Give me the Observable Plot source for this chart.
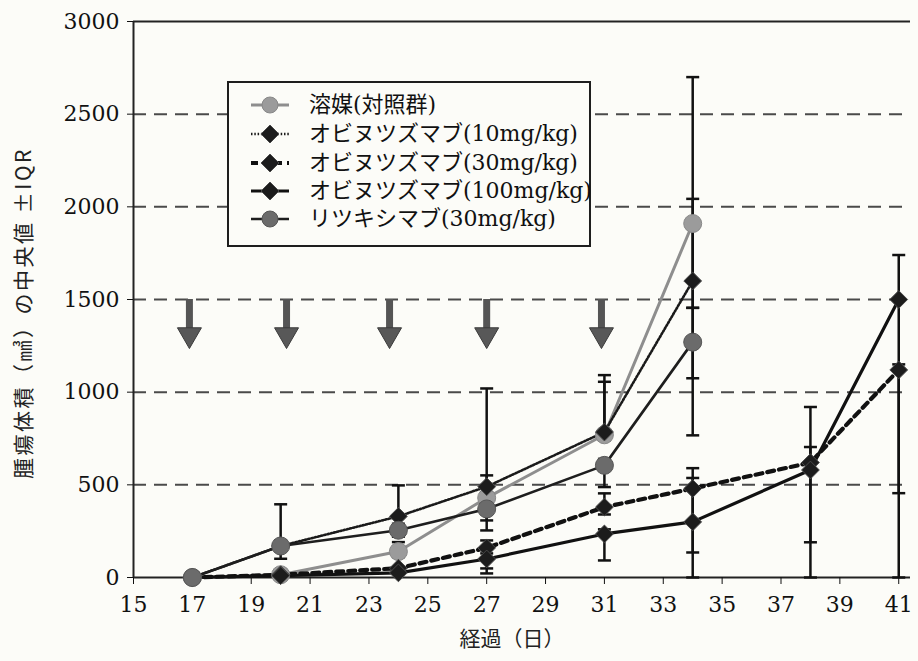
<!DOCTYPE html>
<html><head><meta charset="utf-8">
<script src="https://cdn.jsdelivr.net/npm/d3@7"></script>
<script src="https://cdn.jsdelivr.net/npm/@observablehq/plot@0.6"></script>
<style>
html,body{margin:0;padding:0;background:#fcfcf8;}
#wrap{position:relative;width:918px;height:661px;overflow:hidden;}
#legend{position:absolute;left:227px;top:81px;width:364px;height:166px;border:2px solid #1e1e1e;background:#fcfcf8;box-sizing:border-box;}
.row{position:absolute;left:0;height:28px;display:flex;align-items:center;}
.row svg{margin-left:20px;}
.row span{margin-left:18px;font-family:"DejaVu Serif","Liberation Serif","Noto Sans CJK JP",serif;font-size:22px;color:#111;white-space:nowrap;line-height:28px;}
.axtitle{position:absolute;font-family:"Noto Sans CJK JP",sans-serif;color:#222;white-space:nowrap;}
#ylab{left:22px;top:313px;font-size:21px;letter-spacing:2.5px;transform:translate(-50%,-50%) rotate(-90deg);}
#xlab{left:512px;top:637px;font-size:21px;transform:translate(-50%,-50%);}
</style></head>
<body><div id="wrap"><div id="chart"></div><div id="legend"></div><div id="ylab" class="axtitle"></div><div id="xlab" class="axtitle"></div></div>
<script>
// ---- data ----
const days = [17, 20, 24, 27, 31, 34, 38, 41];
const seriesNames = ["溶媒(対照群)", "オビヌツズマブ(10mg/kg)", "オビヌツズマブ(30mg/kg)", "オビヌツズマブ(100mg/kg)", "リツキシマブ(30mg/kg)"];
const vehicle = [0, 15, 140, 430, 770, 1910];
const obi10 = [0, 170, 330, 490, 785, 1600];
const obi30 = [0, 15, 50, 160, 380, 480, 620, 1120];
const obi100 = [0, 10, 25, 100, 235, 300, 580, 1500];
const ritux = [0, 170, 255, 370, 605, 1270];
// IQR lower / upper bounds (null = none drawn)
const vehicleLow  = [null, null, 110, 308, 740, 1075];
const vehicleHigh = [null, null, 191, 551, 1056, 2700];
const obi10Low  = [null, 150, 250, 460, 760, 1455];
const obi10High = [null, 395, 497, 1020, 1092, 2043];
const obi30Low  = [null, null, null, 49, 340, 135, 190, 0];
const obi30High = [null, null, null, 200, 454, 590, 920, 1150];
const obi100Low  = [null, null, null, 22, 92, 0, 0, 455];
const obi100High = [null, null, null, 130, 260, 537, 704, 1740];
const rituxLow  = [null, 101, 220, 254, 488, 767];
const rituxHigh = [null, 200, 290, 400, 640, 1455];
const doseDays = [16.9, 20.2, 23.7, 27, 30.9];
const arrowTop = 1500, arrowBase = 1330, arrowTip = 1235;
const yTicks = [0, 500, 1000, 1500, 2000, 2500, 3000];
const gridLines = [500, 1000, 1500, 2000, 2500];
const xTicks = [15, 17, 19, 21, 23, 25, 27, 29, 31, 33, 35, 37, 39, 41];
const yTitle = "腫瘍体積（㎣）の中央値 ±IQR";
const xTitle = "経過（日）";

// ---- styles ----
const styles = [
  {values: vehicle, low: vehicleLow, high: vehicleHigh, stroke: "#8e8e8e", width: 3, dash: null, symbol: "circle", r: 9, fill: "#9b9b9b", mstroke: "#888"},
  {values: obi10, low: obi10Low, high: obi10High, stroke: "#1a1a1a", width: 2.6, dash: "1.5,1.8", symbol: "diamond2", r: 8, fill: "#1c1c1c", mstroke: "#4a4a4a"},
  {values: obi30, low: obi30Low, high: obi30High, stroke: "#111", width: 4.2, dash: "7,5", symbol: "diamond2", r: 8, fill: "#1c1c1c", mstroke: "#4a4a4a"},
  {values: obi100, low: obi100Low, high: obi100High, stroke: "#111", width: 3.2, dash: null, symbol: "diamond2", r: 8, fill: "#1c1c1c", mstroke: "#4a4a4a"},
  {values: ritux, low: rituxLow, high: rituxHigh, stroke: "#1e1e1e", width: 2.6, dash: null, symbol: "circle", r: 9, fill: "#6b6b6b", mstroke: "#555"}
];

const rows = styles.map((s, k) => s.values.map((v, i) => ({series: seriesNames[k], day: days[i], value: v, low: s.low[i], high: s.high[i]})));
const errRows = rows.flat().filter(d => d.low != null && d.high != null);
const capRows = errRows.flatMap(d => [{day: d.day, y: d.low}, {day: d.day, y: d.high}]);

const capSymbol = {draw(ctx, size) { const r = Math.sqrt(size / Math.PI); ctx.moveTo(-r, 0); ctx.lineTo(r, 0); }};

const marks = [
  Plot.ruleY(gridLines, {stroke: "#4a4a4a", strokeWidth: 2, strokeDasharray: "13,8"}),
  Plot.ruleY([3000], {stroke: "#222", strokeWidth: 2}),
  Plot.ruleY([0], {stroke: "#222", strokeWidth: 2}),
  Plot.ruleX([15], {y1: 0, y2: 3000, stroke: "#222", strokeWidth: 2}),
  Plot.axisY({ticks: yTicks, tickSize: 6, tickPadding: 8, label: null, tickFormat: d => String(d)}),
  Plot.axisX({ticks: xTicks, tickSize: 7, tickPadding: 12, label: null}),
  Plot.ruleX(doseDays, {x: d => d, y1: arrowTop, y2: arrowBase, stroke: "#555", strokeWidth: 7}),
  Plot.dot(doseDays, {x: d => d, y: arrowTip, dy: -13.9, symbol: "triangle", rotate: 180, r: 8.9, fill: "#585858", stroke: "#3a3a3a", strokeWidth: 1}),
  ...styles.map((s, k) => Plot.line(rows[k], {x: "day", y: "value", stroke: s.stroke, strokeWidth: s.width, strokeDasharray: s.dash})),
  Plot.ruleX(errRows, {x: "day", y1: "low", y2: "high", stroke: "#111", strokeWidth: 2.5}),
  Plot.dot(capRows, {x: "day", y: "y", symbol: capSymbol, r: 6.5, stroke: "#111", strokeWidth: 2.5, fill: "none"}),
  ...styles.map((s, k) => Plot.dot(rows[k], {x: "day", y: "value", symbol: s.symbol, r: s.r, fill: s.fill, stroke: s.mstroke, strokeWidth: 1}))
];

const chart = Plot.plot({
  width: 918, height: 661,
  marginLeft: 133, marginRight: 8, marginTop: 21, marginBottom: 84,
  x: {domain: [15, 41.4]},
  y: {domain: [0, 3000]},
  style: {fontFamily: "'DejaVu Serif', 'Liberation Serif', serif", fontSize: "22px", background: "#fcfcf8", color: "#111"},
  marks
});
document.getElementById("chart").append(chart);
document.getElementById("ylab").textContent = yTitle;
document.getElementById("xlab").textContent = xTitle;

// ---- legend ----
const legend = document.getElementById("legend");
const rowTops = [8, 37, 66, 94, 122];
styles.forEach((s, k) => {
  const row = document.createElement("div");
  row.className = "row";
  row.style.top = rowTops[k] + "px";
  const marker = s.symbol === "circle"
    ? `<circle cx="21" cy="14" r="8" fill="${s.fill}" stroke="${s.mstroke}"/>`
    : `<polygon points="21,5 30,14 21,23 12,14" fill="${s.fill}" stroke="${s.mstroke}"/>`;
  row.innerHTML = `<svg width="42" height="28"><line x1="2" x2="40" y1="14" y2="14" stroke="${s.stroke}" stroke-width="${s.width}" ${s.dash ? `stroke-dasharray="${s.dash}"` : ""}/>${marker}</svg><span>${seriesNames[k]}</span>`;
  legend.append(row);
});
</script></body></html>
